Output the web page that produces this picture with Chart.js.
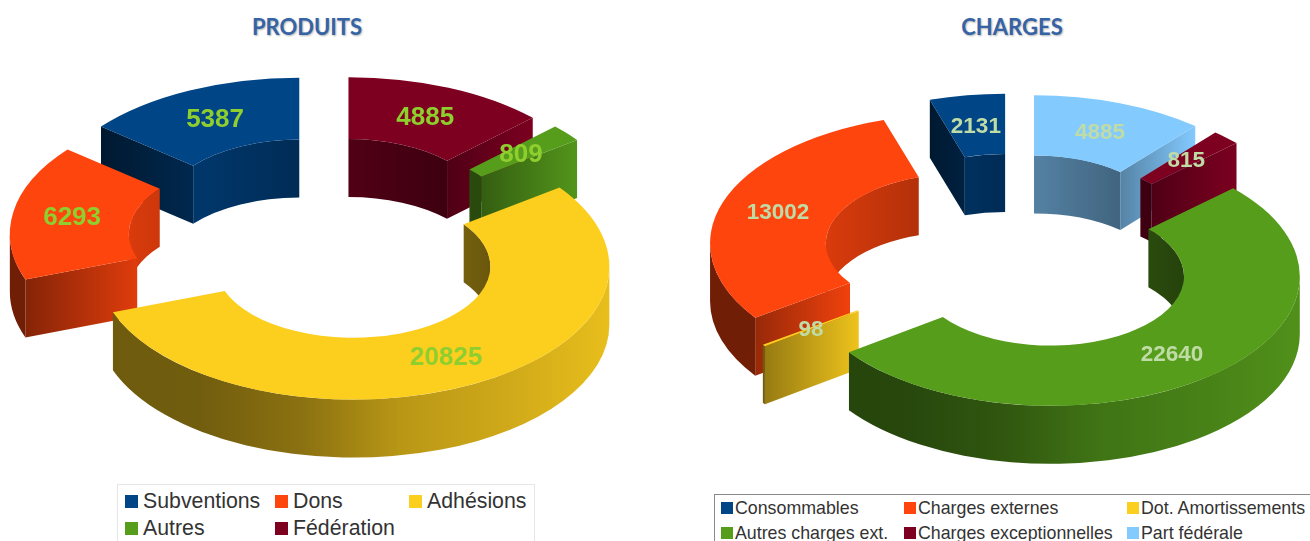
<!DOCTYPE html>
<html lang="fr">
<head>
<meta charset="utf-8">
<title>Produits et charges</title>
<script src="https://cdn.jsdelivr.net/npm/chart.js@4/dist/chart.umd.min.js"></script>
<style>
  html, body { margin: 0; width: 1310px; height: 541px; overflow: hidden; background: #fff; }
  canvas { position: absolute; }
  .titre { position: absolute; top: 13px; font: bold 22px Lato, sans-serif; color: #3563a5; text-shadow: 1px 1px 2px rgba(0,0,0,.3); transform: translateX(-50%); white-space: nowrap; }
  .legende { position: absolute; box-sizing: border-box; background: #fff; font-family: "Liberation Sans", sans-serif; color: #333; overflow: hidden; }
  .legende span { position: absolute; white-space: nowrap; }
  .legende i { position: absolute; display: block; }
</style>
</head>
<body>
<div class="titre" style="left:307px">PRODUITS</div>
<div class="titre" style="left:1012px">CHARGES</div>
<canvas id="produits" width="650" height="478" style="left:0;top:0"></canvas>
<canvas id="charges" width="628" height="506" style="left:700px;top:0"></canvas>
<div id="legende-produits" class="legende" style="left:117px;top:484px;width:418px;height:70px;border:1px solid #e6e6e6;font-size:21.3px"></div>
<div id="legende-charges" class="legende" style="left:714px;top:494px;width:620px;height:60px;border:1px solid #8a8a8a;font-size:17.8px"></div>

<script>
// Données (ordre de la légende, sens anti-horaire depuis le haut)
const produitsLabels = ['Subventions', 'Dons', 'Adhésions', 'Autres', 'Fédération'];
const produitsValues = [5387, 6293, 20825, 809, 4885];
const produitsColors = ['#004586', '#ff450e', '#fcce1e', '#579d1c', '#7e0021'];

const chargesLabels = ['Consommables', 'Charges externes', 'Dot. Amortissements', 'Autres charges ext.', 'Charges exceptionnelles', 'Part fédérale'];
const chargesValues = [2131, 13002, 98, 22640, 815, 4885];
const chargesColors = ['#004586', '#ff450e', '#fcce1e', '#579d1c', '#7e0021', '#83caff'];

function shade(hex, f) {
  const n = parseInt(hex.slice(1), 16);
  const c = [n >> 16, (n >> 8) & 255, n & 255].map(v => Math.round(Math.min(255, v * f)));
  return `rgb(${c[0]},${c[1]},${c[2]})`;
}

function hGradient(ctx, x0, x1, hex, stops) {
  const g = ctx.createLinearGradient(x0, 0, x1 === x0 ? x0 + 1 : x1, 0);
  stops.forEach((f, i) => g.addColorStop(i / (stops.length - 1), shade(hex, f)));
  return g;
}

// Partie de [a0, a1] comprise dans la plage visible (à 2 pi près)
function spans(a0, a1, from, to) {
  const out = [];
  for (let k = -1; k <= 1; k++) {
    const s = Math.max(a0, from + k * 2 * Math.PI);
    const e = Math.min(a1, to + k * 2 * Math.PI);
    if (e > s) out.push([s, e]);
  }
  return out;
}

// Anneau en relief : on incline les arcs de Chart.js et on dessine les parois dessous
const ring3d = {
  id: 'ring3d',
  beforeDatasetsDraw(chart, args, opts) {
    const ctx = chart.ctx;
    const meta = chart.getDatasetMeta(0);
    const values = chart.data.datasets[0].data;
    const colors = chart.data.datasets[0].backgroundColor;
    const k = opts.tilt, depth = opts.depth;

    const arcs = meta.data.map((el, i) => {
      const mid = (el.startAngle + el.endAngle) / 2;
      return {
        el, mid, value: values[i], color: colors[i],
        dx: Math.cos(mid) * opts.explode,
        dy: Math.sin(mid) * opts.explode * k
      };
    }).sort((a, b) => Math.sin(a.mid) - Math.sin(b.mid));

    arcs.forEach(a => {
      const { el, color } = a;
      const cx = el.x + a.dx, cy = el.y + a.dy;
      const R = el.outerRadius, r = el.innerRadius;
      const tube = (rad, s, e) => {
        ctx.beginPath();
        ctx.ellipse(cx, cy, rad, rad * k, 0, s, e, false);
        ctx.ellipse(cx, cy + depth, rad, rad * k, 0, e, s, true);
        ctx.closePath();
        ctx.fill();
      };
      const cap = (ang, nx, ny) => {
        if (ny <= 0) return;
        const x0 = cx + Math.cos(ang) * r, y0 = cy + Math.sin(ang) * r * k;
        const x1 = cx + Math.cos(ang) * R, y1 = cy + Math.sin(ang) * R * k;
        const base = 0.62 + 0.3 * nx;
        ctx.fillStyle = hGradient(ctx, Math.min(x0, x1), Math.max(x0, x1), color, [Math.max(0.36, base - 0.2), base + 0.15]);
        ctx.beginPath();
        ctx.moveTo(x0, y0);
        ctx.lineTo(x1, y1);
        ctx.lineTo(x1, y1 + depth);
        ctx.lineTo(x0, y0 + depth);
        ctx.closePath();
        ctx.fill();
      };

      // paroi intérieure (moitié arrière du trou)
      ctx.fillStyle = hGradient(ctx, cx - r, cx + r, color, [0.85, 0.64, 0.42]);
      spans(el.startAngle, el.endAngle, Math.PI, 2 * Math.PI).forEach(s => tube(r, s[0], s[1]));
      // faces de coupe
      cap(el.startAngle, Math.sin(el.startAngle), -Math.cos(el.startAngle));
      cap(el.endAngle, -Math.sin(el.endAngle), Math.cos(el.endAngle));
      // paroi extérieure (moitié avant) : sombre à gauche, claire à droite
      ctx.fillStyle = hGradient(ctx, cx - R, cx + R, color, [0.44, 0.45, 0.55, 0.74, 0.82, 0.92]);
      spans(el.startAngle, el.endAngle, 0, Math.PI).forEach(s => tube(R, s[0], s[1]));

      // face du dessus : l'arc de Chart.js, écrasé verticalement
      ctx.save();
      ctx.translate(a.dx, el.y + a.dy);
      ctx.scale(1, k);
      ctx.translate(0, -el.y);
      el.draw(ctx);
      ctx.restore();
    });

    // Valeurs au milieu de chaque secteur
    ctx.save();
    ctx.font = opts.labelFont;
    ctx.fillStyle = opts.labelColor;
    ctx.textAlign = 'center';
    ctx.textBaseline = 'middle';
    arcs.forEach(a => {
      const rm = (a.el.outerRadius + a.el.innerRadius) / 2;
      const x = a.el.x + a.dx + Math.cos(a.mid) * rm;
      const y = a.el.y + a.dy + Math.sin(a.mid) * rm * k;
      ctx.fillText(String(a.value), x, y + 1.5);
    });
    ctx.restore();
    return false;
  }
};

function renderRing(id, labels, values, colors, radius, ringOpts) {
  // Chart.js tourne en sens horaire : on inverse pour garder l'ordre anti-horaire
  new Chart(document.getElementById(id), {
    type: 'doughnut',
    data: {
      labels: labels.slice().reverse(),
      datasets: [{
        data: values.slice().reverse(),
        backgroundColor: colors.slice().reverse(),
        borderWidth: 0
      }]
    },
    options: {
      responsive: false,
      animation: false,
      events: [],
      radius: radius,
      cutout: '53.5%',
      layout: { padding: 0 },
      plugins: { legend: { display: false }, tooltip: { enabled: false }, ring3d: ringOpts }
    },
    plugins: [ring3d]
  });
}

function renderLegend(id, labels, colors, columns, rows, boxSize, textGap) {
  const box = document.getElementById(id);
  labels.forEach((label, i) => {
    const left = columns[i % columns.length];
    const top = rows[Math.floor(i / columns.length)];
    const sq = document.createElement('i');
    sq.style.cssText = `left:${left}px;top:${top - boxSize / 2}px;width:${boxSize}px;height:${boxSize}px;background:${colors[i]}`;
    const txt = document.createElement('span');
    txt.textContent = label;
    txt.style.cssText = `left:${left + textGap}px;top:${top}px;transform:translateY(-50%)`;
    box.append(sq, txt);
  });
}

renderRing('produits', produitsLabels, produitsValues, produitsColors, 256, {
  tilt: 0.52, depth: 58, explode: 60,
  labelFont: 'bold 26px "Liberation Sans"', labelColor: '#8fce2f'
});
renderRing('charges', chargesLabels, chargesValues, chargesColors, 249, {
  tilt: 0.52, depth: 58, explode: 58,
  labelFont: 'bold 22.5px "Liberation Sans"', labelColor: '#bfdca6'
});

renderLegend('legende-produits', produitsLabels, produitsColors, [7, 157, 291], [16, 43], 13, 18);
renderLegend('legende-charges', chargesLabels, chargesColors, [6, 189, 412], [13, 38], 12, 14);
</script>
</body>
</html>
